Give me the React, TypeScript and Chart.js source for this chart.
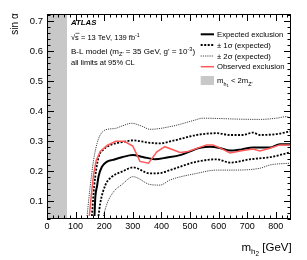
import React, { useEffect, useRef } from "react";
import { Chart, registerables } from "chart.js";

Chart.register(...registerables);

// ---- data ----
const massExp = [166, 169, 175, 180, 192, 210, 230, 262, 300, 335, 377, 420, 465, 535, 570, 604, 640, 680, 720, 779, 814, 850];
const sinExp = [0.05, 0.114, 0.15, 0.181, 0.214, 0.231, 0.237, 0.246, 0.253, 0.247, 0.239, 0.245, 0.253, 0.277, 0.281, 0.277, 0.268, 0.272, 0.278, 0.278, 0.289, 0.289];

const massObs = [148, 155, 163, 172, 186, 210, 240, 270, 300, 325, 355, 384, 412, 465, 493, 558, 580, 604, 640, 685, 720, 744, 779, 814, 850];
const sinObs = [0.05, 0.12, 0.19, 0.235, 0.265, 0.285, 0.299, 0.299, 0.283, 0.232, 0.226, 0.264, 0.281, 0.262, 0.265, 0.287, 0.287, 0.277, 0.26, 0.268, 0.273, 0.267, 0.276, 0.287, 0.287];

const massUp1 = [157, 165, 180, 198, 225, 262, 300, 360, 395, 441, 523, 593, 640, 685, 720, 744, 802, 850];
const sinUp1 = [0.05, 0.15, 0.245, 0.272, 0.288, 0.296, 0.302, 0.294, 0.292, 0.301, 0.32, 0.326, 0.32, 0.32, 0.328, 0.32, 0.323, 0.332];

const massDn1 = [180, 186, 204, 227, 262, 301, 360, 395, 430, 523, 593, 640, 709, 779, 850];
const sinDn1 = [0.05, 0.092, 0.153, 0.181, 0.198, 0.212, 0.192, 0.193, 0.203, 0.231, 0.239, 0.228, 0.239, 0.246, 0.262];

const massUp2 = [140, 150, 163, 175, 186, 204, 239, 262, 296, 330, 360, 441, 511, 545, 600, 662, 744, 802, 837, 850];
const sinUp2 = [0.05, 0.14, 0.237, 0.292, 0.32, 0.337, 0.342, 0.35, 0.359, 0.35, 0.339, 0.35, 0.368, 0.376, 0.375, 0.373, 0.372, 0.376, 0.381, 0.377];

const massDn2 = [197, 210, 233, 262, 301, 360, 395, 430, 523, 593, 640, 744, 779, 850];
const sinDn2 = [0.05, 0.092, 0.131, 0.155, 0.181, 0.155, 0.153, 0.17, 0.192, 0.203, 0.203, 0.209, 0.22, 0.226];

const bandMass = [0, 70];
const bandTop = [0.7233, 0.7233];

const xTicks = [0, 100, 200, 300, 400, 500, 600, 700, 800];
const yTicks = [0.1, 0.2, 0.3, 0.4, 0.5, 0.6, 0.7];

const X_MIN = 0, X_MAX = 853, Y_MIN = 0.04, Y_MAX = 0.7233;

const FONT = "'Liberation Sans', Arial, Helvetica, sans-serif";

const pts = (xs: number[], ys: number[]) => xs.map((x, i) => ({ x, y: ys[i] }));

type Seg = { t: string; sub?: boolean; sup?: boolean; subsub?: boolean };

function drawRich(ctx: CanvasRenderingContext2D, segs: Seg[], x: number, y: number, size: number, style = "", measureOnly = false) {
  let cx = x;
  for (const s of segs) {
    let sz = size;
    let dy = 0;
    if (s.sub) { sz = size * 0.7; dy = size * 0.3; }
    if (s.subsub) { sz = size * 0.55; dy = size * 0.5; }
    if (s.sup) { sz = size * 0.7; dy = -size * 0.4; }
    ctx.font = `${style} ${sz}px ${FONT}`;
    if (!measureOnly) ctx.fillText(s.t, cx, y + dy);
    cx += ctx.measureText(s.t).width;
  }
  return cx - x;
}

const decorPlugin = {
  id: "decor",
  afterDatasetsDraw(chart: any) {
    const ctx: CanvasRenderingContext2D = chart.ctx;
    const xs = chart.scales.x;
    const ys = chart.scales.y;
    const { left, right, top, bottom } = chart.chartArea;
    ctx.save();
    ctx.strokeStyle = "#000";
    ctx.fillStyle = "#000";
    ctx.lineWidth = 1;
    // frame
    ctx.strokeRect(left + 0.5, top + 0.5, right - left - 1, bottom - top - 1);
    // ticks
    ctx.beginPath();
    for (let v = X_MIN; v <= X_MAX; v += 20) {
      const px = Math.round(xs.getPixelForValue(v)) + 0.5;
      const len = v % 100 === 0 ? 7 : 3.5;
      ctx.moveTo(px, bottom); ctx.lineTo(px, bottom - len);
      ctx.moveTo(px, top); ctx.lineTo(px, top + len);
    }
    for (let k = 2; k <= 36; k++) {
      const v = k * 0.02;
      if (v < Y_MIN - 1e-9 || v > Y_MAX) continue;
      const py = Math.round(ys.getPixelForValue(v)) + 0.5;
      const len = k % 5 === 0 ? 7 : 3.5;
      ctx.moveTo(left, py); ctx.lineTo(left + len, py);
      ctx.moveTo(right, py); ctx.lineTo(right - len, py);
    }
    ctx.stroke();

    // annotations
    ctx.textBaseline = "alphabetic";
    ctx.textAlign = "left";
    ctx.font = `italic bold 7.8px ${FONT}`;
    ctx.fillText("ATLAS", 71, 25);
    drawRich(ctx, [{ t: "√s = 13 TeV, 139 fb" }, { t: "-1", sup: true }], 71, 39.5, 7.5);
    // overline for sqrt
    ctx.beginPath();
    ctx.moveTo(75.5, 33.3); ctx.lineTo(79.5, 33.3);
    ctx.lineWidth = 0.6; ctx.stroke();
    drawRich(ctx, [
      { t: "B-L model (m" }, { t: "Z'", sub: true }, { t: " = 35 GeV, g' = 10" }, { t: "-3", sup: true }, { t: ")" },
    ], 71, 54, 8);
    drawRich(ctx, [{ t: "all limits at 95% CL" }], 71, 65, 7.5);

    // legend
    const lx0 = 200.7, lx1 = 214, tx = 217;
    const rows = [34.3, 45, 56, 66.7, 80.5];
    const drawLine = (y: number, color: string, w: number, dash: number[]) => {
      ctx.beginPath();
      ctx.setLineDash(dash);
      ctx.strokeStyle = color;
      ctx.lineWidth = w;
      ctx.moveTo(lx0, y); ctx.lineTo(lx1, y);
      ctx.stroke();
      ctx.setLineDash([]);
    };
    drawLine(rows[0], "#000", 2, []);
    drawLine(rows[1], "#000", 1.8, [2, 1.5]);
    drawLine(rows[2], "#444", 1, [1.2, 1]);
    drawLine(rows[3], "#ff5a5a", 1.5, []);
    ctx.fillStyle = "#c8c8c8";
    ctx.fillRect(lx0, rows[4] - 4.5, lx1 - lx0, 9);
    ctx.fillStyle = "#000";
    const lf = 7.7;
    drawRich(ctx, [{ t: "Expected exclusion" }], tx, rows[0] + 2.7, lf);
    drawRich(ctx, [{ t: "± 1σ (expected)" }], tx, rows[1] + 2.7, lf);
    drawRich(ctx, [{ t: "± 2σ (expected)" }], tx, rows[2] + 2.7, lf);
    drawRich(ctx, [{ t: "Observed exclusion" }], tx, rows[3] + 2.7, lf);
    drawRich(ctx, [{ t: "m" }, { t: "h", sub: true }, { t: "1", subsub: true }, { t: " < 2m" }, { t: "Z'", sub: true }], tx, rows[4] + 2.7, lf);

    // axis titles
    const xt: Seg[] = [{ t: "m" }, { t: "h", sub: true }, { t: "2", subsub: true }, { t: " [GeV]" }];
    const wx = drawRich(ctx, xt, 0, 0, 11.5, "", true);
    drawRich(ctx, xt, 291.7 - wx, 250.5, 11.5);

    ctx.save();
    ctx.translate(18, 13.3);
    ctx.rotate(-Math.PI / 2);
    ctx.textAlign = "right";
    ctx.textBaseline = "alphabetic";
    ctx.font = `10px ${FONT}`;
    ctx.fillText("sin α", 0, 0);
    ctx.restore();

    ctx.restore();
  },
};

export default function App() {
  const ref = useRef<HTMLCanvasElement | null>(null);
  useEffect(() => {
    if (!ref.current) return;
    const smooth = { cubicInterpolationMode: "monotone" as const };
    const chart = new Chart(ref.current, {
      type: "line",
      data: {
        datasets: [
          {
            label: "Observed exclusion",
            data: pts(massObs, sinObs),
            borderColor: "#ff5a5a",
            borderWidth: 1.5,
            pointRadius: 0,
            tension: 0,
            fill: false,
            order: 0,
          },
          {
            label: "Expected exclusion",
            data: pts(massExp, sinExp),
            borderColor: "#000",
            borderWidth: 2,
            pointRadius: 0,
            ...smooth,
            fill: false,
            order: 1,
          },
          {
            label: "+1σ",
            data: pts(massUp1, sinUp1),
            borderColor: "#000",
            borderWidth: 1.8,
            borderDash: [2, 1.5],
            pointRadius: 0,
            ...smooth,
            fill: false,
            order: 2,
          },
          {
            label: "-1σ",
            data: pts(massDn1, sinDn1),
            borderColor: "#000",
            borderWidth: 1.8,
            borderDash: [2, 1.5],
            pointRadius: 0,
            ...smooth,
            fill: false,
            order: 2,
          },
          {
            label: "+2σ",
            data: pts(massUp2, sinUp2),
            borderColor: "#444",
            borderWidth: 1,
            borderDash: [1.2, 1],
            pointRadius: 0,
            ...smooth,
            fill: false,
            order: 3,
          },
          {
            label: "-2σ",
            data: pts(massDn2, sinDn2),
            borderColor: "#444",
            borderWidth: 1,
            borderDash: [1.2, 1],
            pointRadius: 0,
            ...smooth,
            fill: false,
            order: 3,
          },
          {
            label: "band",
            data: pts(bandMass, bandTop),
            borderWidth: 0,
            borderColor: "rgba(0,0,0,0)",
            backgroundColor: "#c8c8c8",
            pointRadius: 0,
            fill: "start",
            order: 10,
          },
        ],
      },
      options: {
        animation: false,
        responsive: false,
        devicePixelRatio: 1,
        layout: { padding: { top: 14, right: 16, left: 0, bottom: 0 } },
        plugins: { legend: { display: false }, tooltip: { enabled: false } },
        scales: {
          x: {
            type: "linear",
            min: X_MIN,
            max: X_MAX,
            grid: { display: false, drawTicks: false },
            border: { display: false },
            afterBuildTicks: (s: any) => { s.ticks = xTicks.map((v) => ({ value: v })); },
            afterFit: (s: any) => { s.height = 41; },
            ticks: {
              color: "#000",
              font: { family: FONT, size: 9 },
              padding: 2,
              maxRotation: 0,
              autoSkip: false,
              callback: (v: any) => String(v),
            },
          },
          y: {
            type: "linear",
            min: Y_MIN,
            max: Y_MAX,
            grid: { display: false, drawTicks: false },
            border: { display: false },
            afterBuildTicks: (s: any) => { s.ticks = yTicks.map((v) => ({ value: v })); },
            afterFit: (s: any) => { s.width = 47; },
            ticks: {
              color: "#000",
              font: { family: FONT, size: 9.5 },
              padding: 4,
              autoSkip: false,
              callback: (v: any) => Number(v).toFixed(1),
            },
          },
        },
      },
      plugins: [decorPlugin],
    });
    return () => chart.destroy();
  }, []);
  return (
    <div style={{ position: "fixed", left: 0, top: 0, width: 307, height: 260, background: "#fff" }}>
      <canvas ref={ref} width={307} height={260} style={{ width: 307, height: 260, display: "block" }} />
    </div>
  );
}
